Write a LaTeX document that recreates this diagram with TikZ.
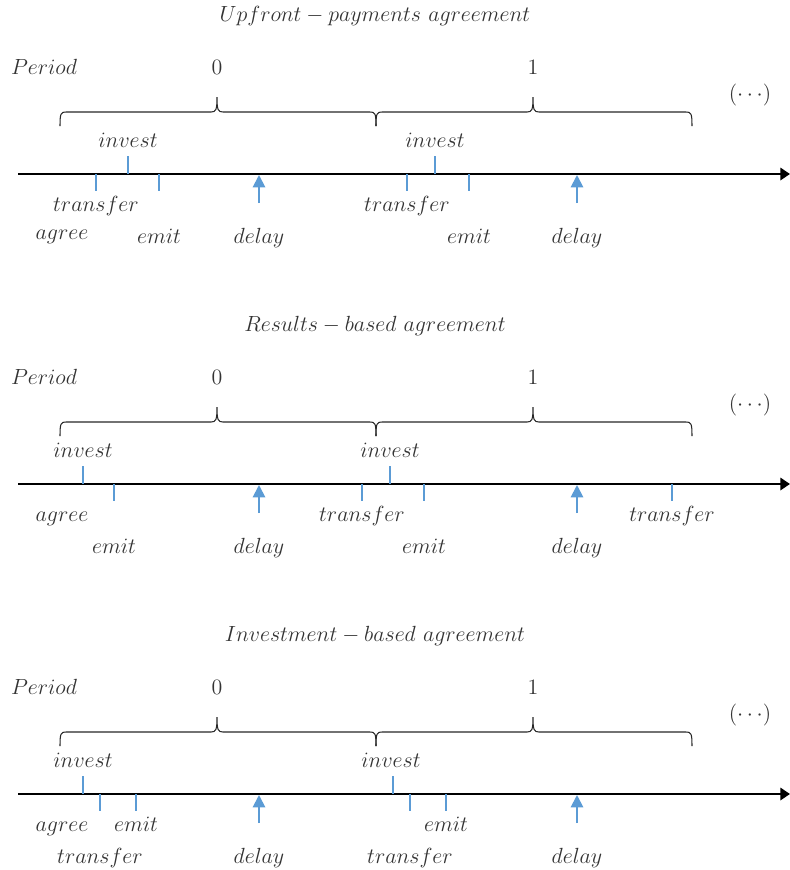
\RequirePackage{fix-cm}
\documentclass[tikz,border=0pt]{standalone}
\usetikzlibrary{arrows.meta}
\definecolor{evblue}{HTML}{5B9BD5}
\definecolor{txtgray}{HTML}{333333}
\begin{document}
\begin{tikzpicture}[x=0.02cm,y=-0.02cm,
    lbl/.style={text=txtgray,font=\fontsize{12.5}{15}\selectfont,inner sep=0pt,anchor=base},
    evtick/.style={evblue,line width=1.1pt},
    delayarrow/.style={evblue,line width=1.1pt,-{Triangle[length=7pt,width=7pt]}},
    timeline/.style={line width=1.4pt,-{Triangle[length=5.5pt,width=7pt]}},
    periodbrace/.style={black!85,line width=0.6pt}]
  \useasboundingbox (0,0) rectangle (790,870);
  % frame shared by the three panels
  \foreach \dy/\k in {0/a,310/b,620/c}{
    \begin{scope}[shift={(0,\dy)}]
      \node[lbl] (period\k) at (44,74) {$Period$};
      \node[lbl] (zero\k) at (217,74) {$0$};
      \node[lbl] (one\k) at (533,74) {$1$};
      \node[lbl] (more\k) at (750,100) {$(\cdots)$};
      \draw[periodbrace] (60,126) .. controls (60,113) and (61,112) .. (66,112) -- (211,112)
        .. controls (216,112) and (217,110) .. (217,97) .. controls (217,110) and (218,112) .. (223,112)
        -- (370,112) .. controls (375,112) and (376,113) .. (376,126);
      \draw[periodbrace] (376,126) .. controls (376,113) and (377,112) .. (382,112) -- (527,112)
        .. controls (532,112) and (533,110) .. (533,97) .. controls (533,110) and (534,112) .. (539,112)
        -- (686,112) .. controls (691,112) and (692,113) .. (692,126);
      \draw[timeline] (18,174) -- (790,174);
      \draw[delayarrow] (259,203) -- (259,175);
      \draw[delayarrow] (577,203) -- (577,175);
      \node[lbl] (delay0\k) at (259,243) {$delay$};
      \node[lbl] (delay1\k) at (577,243) {$delay$};
    \end{scope}
  }

  % upfront payments
  \node[lbl] (titlea) at (375,21) {$Upfront - payments\ agreement$};
  \draw[evtick] (96,174) -- (96,191);
  \draw[evtick] (128,156) -- (128,174);
  \draw[evtick] (159,174) -- (159,191);
  \draw[evtick] (407,174) -- (407,191);
  \draw[evtick] (435,156) -- (435,174);
  \draw[evtick] (469,174) -- (469,191);
  \node[lbl] (inv0a) at (128,147) {$invest$};
  \node[lbl] (inv1a) at (435,147) {$invest$};
  \node[lbl] (trf0a) at (96,211) {$transfer$};
  \node[lbl] (trf1a) at (407,211) {$transfer$};
  \node[lbl] (agra) at (62,239) {$agree$};
  \node[lbl] (emit0a) at (159,243) {$emit$};
  \node[lbl] (emit1a) at (469,243) {$emit$};

  % results based
  \node[lbl] (titleb) at (375,331) {$Results - based\ agreement$};
  \draw[evtick] (83,466) -- (83,484);
  \draw[evtick] (114,484) -- (114,501);
  \draw[evtick] (362,484) -- (362,501);
  \draw[evtick] (390,466) -- (390,484);
  \draw[evtick] (424,484) -- (424,501);
  \draw[evtick] (672,484) -- (672,501);
  \node[lbl] (inv0b) at (83,457) {$invest$};
  \node[lbl] (inv1b) at (390,457) {$invest$};
  \node[lbl] (agrb) at (62,521) {$agree$};
  \node[lbl] (trf1b) at (362,521) {$transfer$};
  \node[lbl] (trf2b) at (672,521) {$transfer$};
  \node[lbl] (emit0b) at (114,553) {$emit$};
  \node[lbl] (emit1b) at (424,553) {$emit$};

  % investment based
  \node[lbl] (titlec) at (375,641) {$Investment - based\ agreement$};
  \draw[evtick] (83,776) -- (83,794);
  \draw[evtick] (100,794) -- (100,811);
  \draw[evtick] (136,794) -- (136,811);
  \draw[evtick] (393,776) -- (393,794);
  \draw[evtick] (410,794) -- (410,811);
  \draw[evtick] (446,794) -- (446,811);
  \node[lbl] (inv0c) at (83,767) {$invest$};
  \node[lbl] (inv1c) at (391,767) {$invest$};
  \node[lbl] (agrc) at (62,831) {$agree$};
  \node[lbl] (emit0c) at (136,831) {$emit$};
  \node[lbl] (emit1c) at (446,831) {$emit$};
  \node[lbl] (trf0c) at (100,863) {$transfer$};
  \node[lbl] (trf1c) at (410,863) {$transfer$};
\end{tikzpicture}
\end{document}
